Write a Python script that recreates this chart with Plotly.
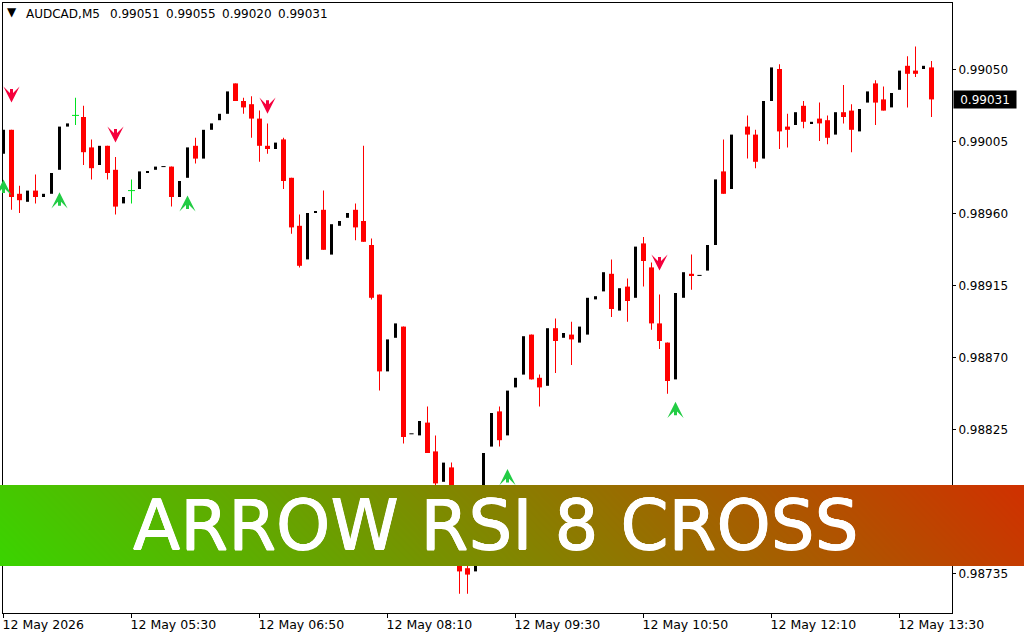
# AUDCAD M5 candles with the RSI cross arrows and the title banner across the chart
import numpy as np
import pandas as pd
import plotly.graph_objects as go

# prices are kept in points above 0.98000 (1050 -> 0.99050)
BASE = 0.98
POINT = 0.00001

opens = [997,1012,972,967,974,970,972,987,1014,1021,1020,1001,990,1002,987,966,974,975,985,987,989,989,970,982,1002,994,1012,1018,1022,1041,
         1030,1028,1019,1002,1000,1006,982,952,931,960,962,934,952,957,962,955,940,909,861,882,889,822,821,829,811,792,801,770,738,736,
         750,814,836,821,851,859,884,857,852,888,882,884,879,884,906,911,922,899,914,907,941,926,891,879,856,907,922,921,924,940,
         986,975,None,1014,1009,994,1030,1050,1014,1015,1027,1016,1019,1018,1009,1023,1024,1011,1029,1041,1031,1026,1037,1052,1049,1050,1051]
highs = [1012,1012,977,974,984,972,985,1014,1016,1032,1027,1006,1002,1002,995,970,981,986,986,989,989,989,980,1001,1007,1012,1016,1022,1036,1041,
         1032,1033,1024,1016,1004,1007,982,959,960,961,974,953,955,960,966,1002,944,909,881,891,889,822,830,839,821,804,804,774,745,745,
         810,835,839,849,857,883,884,859,888,894,885,892,889,907,908,923,931,913,919,939,945,929,909,879,910,923,934,921,940,981,
         1006,1009,None,1021,1012,1030,1051,1053,1022,1023,1030,1017,1029,1021,1023,1040,1028,1025,1036,1043,1039,1035,1049,1058,1064,1052,1055]
lows = [997,962,960,967,966,970,972,987,1014,1015,990,981,990,981,959,966,966,975,985,987,989,964,970,982,991,994,1012,1018,1022,1030,
        1022,1007,992,997,1000,975,947,926,931,960,937,934,952,957,943,942,906,849,861,882,816,822,821,810,785,792,770,722,722,736,
        750,814,814,821,851,859,856,839,852,860,882,865,879,884,906,911,895,899,892,907,914,887,875,847,856,907,912,921,924,940,
        972,975,None,994,988,994,1030,1000,1001,1015,1013,1016,1005,1003,1009,1016,998,1011,1029,1015,1024,1026,1037,1026,1045,1050,1020]
closes = [1012,970,968,974,970,972,985,1014,1016,1021,998,988,1002,985,964,970,974,986,986,989,989,970,980,1001,994,1012,1016,1022,1036,1030,
          1026,1019,1002,1000,1004,980,951,927,960,961,937,953,955,960,951,942,907,861,881,891,820,822,830,810,791,804,774,736,734,745,
          810,835,818,849,857,883,856,851,888,880,885,881,889,907,908,923,900,913,905,939,930,891,880,855,910,923,921,921,940,981,
          972,1009,None,1009,992,1030,1051,1011,1012,1023,1017,1017,1016,1007,1023,1020,1012,1025,1036,1029,1024,1035,1049,1047,1047,1052,1031]

# 5 minute bars, one label every 16 bars
tick_bars = [0, 16, 32, 48, 64, 80, 96, 112]
tick_labels = ["12 May 2026", "12 May 05:30", "12 May 06:50", "12 May 08:10",
               "12 May 09:30", "12 May 10:50", "12 May 12:10", "12 May 13:30"]
price_ticks = [0.99050, 0.99005, 0.98960, 0.98915, 0.98870, 0.98825, 0.98735]
header_values = ["0.99051", "0.99055", "0.99020", "0.99031"]

# arrow tips
up_arrow_bars = [0, 7, 23, 63, 84]
up_arrow_pts = [981, 973, 971, 800, 842]
down_arrow_bars = [1, 14, 33, 82]
down_arrow_pts = [1029, 1004, 1022, 924]

df = pd.DataFrame({"o": opens, "h": highs, "l": lows, "c": closes}, dtype=float)
df = BASE + df * POINT
df["bar"] = np.arange(len(df))
pts_o = pd.Series(opens, dtype=float)
pts_c = pd.Series(closes, dtype=float)
falling = df[pts_c < pts_o]
rising = df[pts_c > pts_o]
flat = df[pts_c == pts_o]
flat_wick = flat[flat.h > flat.l]
flat_plain = flat[flat.h == flat.l]

fig = go.Figure()

# wicks
fig.add_trace(go.Bar(x=falling.bar, y=falling.h - falling.l, base=falling.l, width=0.125,
                     marker=dict(color="#ff0000", line_width=0)))
fig.add_trace(go.Bar(x=flat_wick.bar, y=flat_wick.h - flat_wick.l, base=flat_wick.l, width=0.125,
                     marker=dict(color="#00e020", line_width=0)))
# bodies
fig.add_trace(go.Bar(x=falling.bar, y=falling.o - falling.c, base=falling.c, width=0.625,
                     marker=dict(color="#ff0000", line_width=0)))
fig.add_trace(go.Bar(x=rising.bar, y=rising.c - rising.o, base=rising.o, width=0.375,
                     marker=dict(color="#000000", line_width=0)))
fig.add_trace(go.Scatter(x=flat_wick.bar, y=flat_wick.c, mode="markers",
                         marker=dict(symbol="line-ew", size=5, line=dict(color="#00e020", width=1))))
fig.add_trace(go.Scatter(x=flat_plain.bar, y=flat_plain.c, mode="markers",
                         marker=dict(symbol="line-ew", size=3, line=dict(color="#000000", width=1))))

# banner gradient on its own axes so it sits over the chart
fig.add_trace(go.Heatmap(x=[0, 1], y=[0, 1], z=[[0.0, 0.93], [0.07, 1.0]], xaxis="x2", yaxis="y2",
                         zmin=0, zmax=1, zsmooth="best", showscale=False, hoverinfo="skip",
                         colorscale=[[0, "#3ad400"], [1, "#d03000"]]))

notes = [
    dict(text="\u25bc", xref="paper", yref="paper", x=11.5 / 1024, y=1 - 12 / 640, xanchor="center", yanchor="middle",
         showarrow=False, font=dict(size=12)),
    dict(text="AUDCAD,M5", xref="paper", yref="paper", x=24 / 1024, y=1 - 14 / 640, xanchor="left", yanchor="middle",
         showarrow=False, font=dict(size=12)),
    dict(text="0.99031", xref="paper", yref="y", x=985 / 1024, y=0.99031, xanchor="center", yanchor="middle",
         showarrow=False, bgcolor="black", font=dict(size=12, color="white"), width=62, height=17, borderpad=0),
    dict(text="ARROW RSI 8 CROSS", xref="paper", yref="paper", x=495 / 1024, y=1 - 525 / 640,
         xanchor="center", yanchor="middle", showarrow=False,
         font=dict(family="DejaVu Sans", size=69, color="white",
                   shadow="0.5px 0 0 white, -0.5px 0 0 white, 0 0.5px 0 white, 0 -0.5px 0 white")),
]
for left, value in zip([108, 164, 220, 276], header_values):
    notes.append(dict(text=value, xref="paper", yref="paper", x=left / 1024, y=1 - 14 / 640, xanchor="left",
                      yanchor="middle", showarrow=False, font=dict(size=12)))
# signal arrows, tail given in pixels from the tip
for bar, pts in zip(up_arrow_bars, up_arrow_pts):
    notes.append(dict(x=bar, y=BASE + pts * POINT, ax=0, ay=14, text="", showarrow=True, arrowhead=3, font=dict(size=1),
                      borderpad=0, arrowwidth=3, arrowsize=0.9, arrowcolor="#22cc44", standoff=0))
for bar, pts in zip(down_arrow_bars, down_arrow_pts):
    notes.append(dict(x=bar, y=BASE + pts * POINT, ax=0, ay=-14, text="", showarrow=True, arrowhead=3, font=dict(size=1),
                      borderpad=0, arrowwidth=3, arrowsize=0.9, arrowcolor="#f5003c", standoff=0))

fig.update_layout(
    width=1024, height=640,
    margin=dict(l=0, r=0, t=0, b=0),
    paper_bgcolor="white", plot_bgcolor="white",
    showlegend=False, barmode="overlay",
    font=dict(family="DejaVu Sans", size=12, color="black"),
    xaxis=dict(domain=[3 / 1024, 952 / 1024], range=[-0.0625, 118.5625], showgrid=False, zeroline=False,
               showline=True, mirror=True, linecolor="black", linewidth=1, automargin=False,
               tickmode="array", tickvals=tick_bars, ticktext=tick_labels, tickfont=dict(size=12.5),
               ticks="outside", ticklen=4, tickcolor="black", ticklabelposition="outside right", ticklabelshift=-2),
    yaxis=dict(domain=[27 / 640, 637 / 640], range=[0.98710, 0.9909125], side="right", showgrid=False, zeroline=False,
               showline=True, mirror=True, linecolor="black", linewidth=1, automargin=False,
               tickmode="array", tickvals=price_ticks, tickformat=".5f", ticklabelshift=1,
               ticks="outside", ticklen=3, tickcolor="black"),
    xaxis2=dict(domain=[0, 1], range=[0, 1], anchor="y2", visible=False, automargin=False),
    yaxis2=dict(domain=[74 / 640, 155 / 640], range=[0, 1], anchor="x2", visible=False, automargin=False),
    annotations=notes,
)

fig.write_html("out.html", config={"displayModeBar": False},
               post_script="document.body.style.margin='0';document.body.style.overflow='hidden';")
